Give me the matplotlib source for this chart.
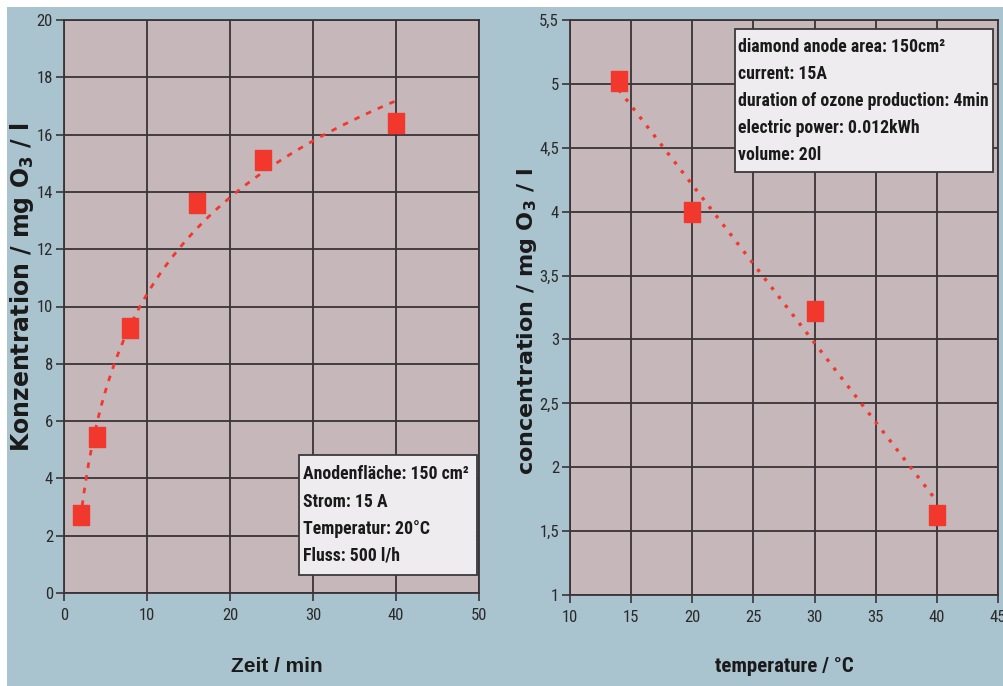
import numpy as np
import matplotlib
matplotlib.use("Agg")
import matplotlib.pyplot as plt
from matplotlib import font_manager as fm
from matplotlib.patches import Rectangle

# left panel: ozone concentration over time
zeit = [2, 4, 8, 16, 24, 40]
konz = [2.72, 5.44, 9.25, 13.6, 15.1, 16.4]
left_info = ["Anodenfläche: 150 cm²", "Strom: 15 A", "Temperatur: 20°C", "Fluss: 500 l/h"]

# right panel: concentration vs. temperature
temp = [14, 20, 30, 40]
conc = [5.02, 4.0, 3.22, 1.63]
right_info = ["diamond anode area: 150cm²", "current: 15A",
              "duration of ozone production: 4min", "electric power: 0.012kWh", "volume: 20l"]
right_yticks = [1, 1.5, 2, 2.5, 3, 3.5, 4, 4.5, 5, 5.5]


def pick_condensed():
    # the original uses a narrow Arial-like face, take one if there is any
    wide = ('condensed', 'semi-condensed', 'extra-condensed', 'ultra-condensed')
    for name in ['Liberation Sans Narrow', 'Roboto Condensed', 'Noto Sans', 'Open Sans',
                 'DejaVu Sans', 'Roboto']:
        for f in fm.fontManager.ttflist:
            if f.name == name and (f.stretch in wide or 'Narrow' in name or 'Condensed' in name):
                return name, f.stretch
    return 'Liberation Sans', 'normal'


COND, STRETCH = pick_condensed()

plt.rcParams['font.family'] = ['Liberation Sans', 'DejaVu Sans']
plt.rcParams['mathtext.default'] = 'regular'

BG = '#a9c3cf'
PLOT_BG = '#c6b7bb'
GRID = '#3b3337'
RED = '#f2382c'
TXT = '#2a2a2a'
DARK = '#1a1a1a'

fig = plt.figure(figsize=(10.04, 6.86), dpi=100)
fig.patch.set_facecolor('white')
fig.add_artist(Rectangle((7 / 1004, 0), 1, 1 - 7 / 686, transform=fig.transFigure,
                         facecolor=BG, edgecolor='none', zorder=-10))

ax1 = fig.add_axes([64 / 1004, 1 - 593 / 686, 415 / 1004, 573 / 686])
ax2 = fig.add_axes([570 / 1004, 1 - 595 / 686, 428 / 1004, 575 / 686])

# rectangular marker, a bit taller than wide
rect = [(-0.4, -0.5), (0.4, -0.5), (0.4, 0.5), (-0.4, 0.5), (-0.4, -0.5)]

tick_fp = fm.FontProperties(family=COND, stretch=STRETCH, size=12)
box_fp = fm.FontProperties(family=COND, stretch=STRETCH, weight='bold', size=12.8)


def style(ax):
    ax.set_facecolor(PLOT_BG)
    ax.grid(True, color=GRID, lw=1.3)
    ax.set_axisbelow(True)
    for s in ax.spines.values():
        s.set_color(GRID)
        s.set_linewidth(1.3)
    ax.tick_params(direction='out', length=6, width=1.2, color=GRID, labelcolor=TXT, pad=2)
    ax.tick_params(axis='x', pad=5)
    for lab in ax.get_xticklabels() + ax.get_yticklabels():
        lab.set_fontproperties(tick_fp)


def info_box(ax, x0, y0, x1, y1, lines, ys, xt):
    ax.add_patch(Rectangle((x0, y0), x1 - x0, y1 - y0, transform=ax.transAxes,
                           facecolor='#efecef', edgecolor='#3a3a3a', lw=1.3, zorder=5))
    for line, y in zip(lines, ys):
        ax.text(xt, y, line, transform=ax.transAxes, fontproperties=box_fp, color=DARK,
                va='center', ha='left', zorder=6)


# left
a, b = np.polyfit(np.log(zeit), konz, 1)
xf = np.linspace(min(zeit), max(zeit), 200)
ax1.plot(xf, a * np.log(xf) + b, color=RED, lw=2, ls=(0, (2.0, 2.6)), zorder=3)
ax1.plot(zeit, konz, ls='none', marker=rect, ms=15, color=RED, mec=RED, zorder=4)
ax1.set_xlim(0, 50)
ax1.set_ylim(0, 20)
ax1.set_xticks(range(0, 51, 10))
ax1.set_yticks(range(0, 21, 2))
style(ax1)
ax1.set_xlabel("Zeit / min", fontsize=15, fontweight='bold', color=DARK)
ax1.xaxis.set_label_coords((277 - 64) / 415, (593 - 657) / 573)
ax1.set_ylabel("Konzentration / mg O$_3$ / l", fontsize=17, fontweight='bold',
               family='DejaVu Sans', color=DARK, va='center')
ax1.yaxis.set_label_coords((22 - 64) / 415, (593 - 287) / 573)
info_box(ax1, (299 - 64) / 415, (593 - 575) / 573, (477 - 64) / 415, (593 - 455) / 573,
         left_info, [(593 - y) / 573 for y in (474, 502, 529, 556)], (303 - 64) / 415)

# right
m, c = np.polyfit(temp, conc, 1)
xl = np.array([min(temp), max(temp)])
ax2.plot(xl, m * xl + c, color=RED, lw=2.4, ls=(0, (1.0, 2.4)), zorder=3)
ax2.plot(temp, conc, ls='none', marker=rect, ms=15, color=RED, mec=RED, zorder=4)
ax2.set_xlim(10, 45)
ax2.set_ylim(1, 5.5)
ax2.set_xticks(range(10, 46, 5))
ax2.set_yticks(right_yticks)
ax2.set_yticklabels([f"{v:g}".replace('.', ',') for v in right_yticks])
style(ax2)
ax2.set_xlabel("temperature / °C", fontproperties=fm.FontProperties(
    family=COND, stretch=STRETCH, weight='bold', size=15), color=DARK)
ax2.xaxis.set_label_coords((784 - 570) / 428, (595 - 657) / 575)
ax2.set_ylabel("concentration / mg O$_3$ / l", fontsize=16, fontweight='bold',
               family='DejaVu Sans', color=DARK, va='center')
ax2.yaxis.set_label_coords((527 - 570) / 428, (595 - 322) / 575)
info_box(ax2, (735 - 570) / 428, (595 - 172) / 575, (993 - 570) / 428, (595 - 29) / 575,
         right_info, [(595 - y) / 575 for y in (47, 74, 101, 128, 155)], (738 - 570) / 428)

fig.savefig("out.png", dpi=100, facecolor=fig.get_facecolor())
